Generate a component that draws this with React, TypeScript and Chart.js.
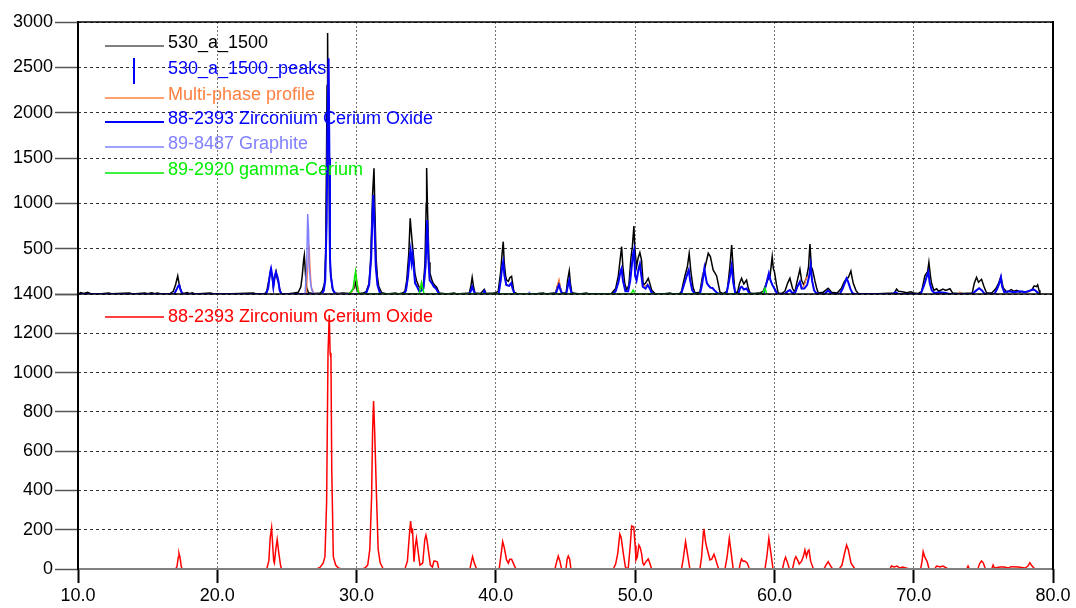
import React, { useEffect, useRef } from "react";
import { Chart, registerables } from "chart.js";

Chart.register(...registerables);

const FONT = '"Liberation Sans", Arial, Helvetica, sans-serif';

// ---- axis definitions ----
const xMin = 10;
const xMax = 80;
const xStep = 10;
const topMax = 3000;
const topStep = 500;
const bottomMax = 1400;
const bottomStep = 200;

// ---- legend labels ----
const topLegendLabels = [
  "530_a_1500",
  "530_a_1500_peaks",
  "Multi-phase profile",
  "88-2393 Zirconium Cerium Oxide",
  "89-8487 Graphite",
  "89-2920 gamma-Cerium",
];
const bottomLegendLabel = "88-2393 Zirconium Cerium Oxide";

// ---- series: [2theta, intensity] ----
const observed: number[][] = [
  [10.0, 0], [10.2, 15], [10.4, 5], [10.7, 18], [10.9, 3], [11.5, 0], [12.2, 12], [12.4, 2],
  [13.7, 10], [13.9, 0], [14.8, 12], [15.0, 2], [15.3, 14], [15.5, 2], [15.7, 10], [16.0, 0],
  [16.6, 5], [16.84, 30], [17.0, 100], [17.16, 199], [17.25, 120], [17.35, 60], [17.44, 15],
  [17.6, 5], [17.85, 15], [18.0, 4], [18.2, 14], [18.4, 0], [19.5, 12], [19.7, 3], [20.5, 0],
  [22.6, 10], [22.8, 0], [23.4, 0], [23.55, 30], [23.7, 150], [23.85, 257], [23.95, 180],
  [24.02, 80], [24.12, 200], [24.22, 250], [24.3, 170], [24.4, 120], [24.5, 40], [24.6, 5],
  [25.0, 0], [25.5, 10], [25.82, 20], [26.0, 80], [26.1, 200], [26.2, 380], [26.25, 430],
  [26.32, 250], [26.4, 80], [26.54, 15], [26.7, 10], [27.0, 5], [27.4, 10], [27.55, 40],
  [27.7, 120], [27.78, 450], [27.84, 1500], [27.88, 2300], [27.92, 2880], [27.96, 1900],
  [28.0, 2200], [28.03, 1300], [28.07, 500], [28.13, 250], [28.25, 70], [28.4, 15], [28.7, 5],
  [29.0, 10], [29.5, 5], [29.8, 60], [29.9, 130], [30.0, 60], [30.2, 5], [30.5, 10], [30.7, 30],
  [30.9, 120], [31.0, 350], [31.07, 673], [31.15, 1100], [31.25, 1386], [31.32, 900], [31.4, 400],
  [31.5, 180], [31.6, 80], [31.8, 15], [32.2, 0], [32.8, 10], [33.0, 0], [33.3, 10], [33.47, 30],
  [33.6, 150], [33.75, 450], [33.85, 835], [33.92, 700], [34.0, 559], [34.07, 450], [34.19, 228],
  [34.3, 150], [34.45, 90], [34.6, 60], [34.79, 80], [34.91, 339], [35.0, 1000], [35.03, 1390],
  [35.1, 900], [35.2, 350], [35.27, 228], [35.4, 160], [35.5, 118], [35.6, 100], [35.75, 75],
  [35.94, 10], [36.5, 0], [37.0, 10], [37.2, 0], [38.09, 10], [38.2, 80], [38.3, 184], [38.4, 80],
  [38.5, 10], [38.9, 5], [39.17, 52], [39.3, 5], [39.8, 10], [40.0, 15], [40.17, 30], [40.35, 250],
  [40.45, 450], [40.53, 577], [40.6, 350], [40.7, 200], [40.77, 154], [40.9, 140], [41.0, 180],
  [41.13, 195], [41.2, 120], [41.3, 20], [41.5, 5], [42.0, 0], [43.0, 5], [43.4, 10], [43.6, 0],
  [44.3, 15], [44.4, 80], [44.53, 136], [44.62, 70], [44.75, 10], [45.05, 15], [45.15, 150],
  [45.27, 254], [45.35, 120], [45.45, 15], [46.0, 0], [46.5, 10], [46.7, 0], [48.3, 5], [48.43, 30],
  [48.6, 60], [48.79, 199], [48.9, 350], [49.03, 522], [49.12, 300], [49.25, 120], [49.39, 44],
  [49.55, 100], [49.7, 400], [49.8, 522], [49.91, 750], [49.98, 500], [50.1, 301], [50.22, 400],
  [50.34, 456], [50.46, 375], [50.58, 99], [50.75, 120], [50.94, 173], [51.05, 120], [51.18, 44],
  [51.42, 5], [52.0, 0], [52.5, 10], [52.7, 0], [53.2, 5], [53.33, 30], [53.57, 199], [53.75, 300],
  [53.88, 449], [54.0, 250], [54.15, 80], [54.29, 10], [54.65, 20], [54.84, 199], [55.0, 283],
  [55.1, 350], [55.25, 449], [55.4, 412], [55.6, 265], [55.85, 199], [56.09, 20], [56.3, 5],
  [56.61, 30], [56.8, 300], [56.93, 540], [57.05, 250], [57.16, 20], [57.35, 20], [57.5, 120],
  [57.64, 173], [57.8, 110], [58.0, 154], [58.1, 80], [58.24, 10], [58.5, 5], [59.0, 15], [59.2, 30],
  [59.5, 150], [59.68, 191], [59.84, 412], [59.92, 280], [60.0, 246], [60.15, 100], [60.27, 10],
  [60.5, 5], [60.75, 30], [60.95, 120], [61.11, 173], [61.3, 60], [61.47, 20], [61.6, 120],
  [61.83, 272], [61.95, 150], [62.1, 100], [62.3, 180], [62.45, 300], [62.55, 551], [62.65, 300],
  [62.74, 265], [62.9, 150], [63.03, 66], [63.15, 10], [63.5, 20], [63.86, 63], [64.1, 20],
  [64.5, 10], [64.8, 60], [65.0, 130], [65.18, 173], [65.3, 180], [65.49, 254], [65.55, 200],
  [65.66, 118], [65.85, 40], [66.02, 5], [67.0, 0], [68.6, 10], [68.77, 55], [68.9, 30], [69.2, 25],
  [69.5, 15], [69.8, 25], [70.0, 10], [70.3, 5], [70.57, 30], [70.8, 200], [71.0, 250], [71.09, 350],
  [71.2, 200], [71.28, 118], [71.45, 40], [71.64, 58], [71.8, 30], [72.1, 55], [72.3, 40],
  [72.6, 58], [72.8, 10], [73.2, 5], [73.31, 15], [73.5, 5], [74.2, 10], [74.35, 120], [74.51, 184],
  [74.65, 130], [74.87, 162], [75.05, 80], [75.23, 10], [75.6, 10], [75.9, 60], [76.1, 120],
  [76.26, 191], [76.35, 120], [76.43, 66], [76.7, 20], [77.0, 49], [77.2, 30], [77.4, 40],
  [77.6, 20], [77.8, 30], [78.0, 20], [78.3, 30], [78.5, 50], [78.65, 90], [78.82, 81], [78.9, 100],
  [79.0, 40], [79.06, 10],
];

const zcoProfile: number[][] = [
  [10, 0], [16.9, 0], [17.05, 40], [17.2, 90], [17.27, 99], [17.35, 50], [17.5, 0],
  [23.5, 0], [23.65, 60], [23.8, 240], [23.86, 280], [23.95, 200], [24.03, 80], [24.12, 180],
  [24.21, 239], [24.3, 200], [24.38, 150], [24.48, 40], [24.6, 0],
  [27.5, 0], [27.65, 40], [27.75, 150], [27.85, 800], [27.92, 1900], [27.99, 2600], [28.05, 1500],
  [28.09, 400], [28.15, 200], [28.3, 44], [28.5, 0],
  [30.6, 0], [30.72, 20], [30.9, 100], [31.05, 400], [31.13, 800], [31.2, 1092], [31.28, 800],
  [31.38, 300], [31.5, 100], [31.68, 10], [31.9, 0],
  [33.4, 0], [33.55, 40], [33.7, 200], [33.8, 400], [33.88, 485], [33.95, 350], [34.02, 430],
  [34.1, 300], [34.2, 120], [34.35, 80], [34.5, 30], [34.6, 30], [34.8, 60], [34.95, 300],
  [35.07, 816], [35.15, 400], [35.25, 150], [35.4, 120], [35.55, 80], [35.7, 60], [35.85, 20], [36.0, 0],
  [38.1, 0], [38.22, 40], [38.3, 81], [38.4, 40], [38.5, 0],
  [39.1, 0], [39.17, 30], [39.25, 0],
  [40.2, 0], [40.35, 150], [40.45, 300], [40.53, 356], [40.62, 200], [40.75, 100], [40.95, 90],
  [41.1, 120], [41.2, 60], [41.35, 0],
  [44.3, 0], [44.45, 70], [44.53, 100], [44.65, 40], [44.75, 0], [45.05, 0], [45.18, 100],
  [45.27, 154], [45.35, 60], [45.45, 0],
  [48.4, 0], [48.6, 30], [48.8, 130], [48.95, 250], [49.03, 283], [49.12, 150], [49.3, 30],
  [49.5, 30], [49.65, 150], [49.75, 300], [49.85, 440], [49.92, 485], [50.0, 200], [50.1, 150],
  [50.25, 280], [50.34, 330], [50.45, 200], [50.55, 80], [50.75, 60], [50.9, 100], [51.05, 60],
  [51.2, 10], [51.4, 0],
  [53.3, 0], [53.5, 100], [53.7, 200], [53.85, 265], [53.95, 150], [54.1, 40], [54.3, 0],
  [54.65, 0], [54.8, 100], [54.97, 283], [55.05, 200], [55.15, 120], [55.25, 99], [55.4, 70],
  [55.55, 66], [55.7, 40], [55.9, 10], [56.05, 0],
  [56.55, 0], [56.75, 150], [56.93, 309], [57.05, 120], [57.2, 0],
  [57.4, 0], [57.55, 70], [57.65, 80], [57.8, 50], [58.0, 60], [58.15, 20], [58.3, 0],
  [59.2, 0], [59.4, 100], [59.6, 228], [59.72, 150], [59.85, 100], [60.0, 60], [60.2, 0],
  [60.75, 0], [60.95, 30], [61.11, 44], [61.3, 10], [61.5, 20], [61.65, 80], [61.83, 136],
  [61.95, 60], [62.15, 60], [62.35, 100], [62.5, 200], [62.6, 320], [62.7, 150], [62.85, 40],
  [63.0, 10], [63.2, 0],
  [63.6, 0], [63.86, 40], [64.1, 0],
  [64.7, 0], [64.9, 60], [65.05, 120], [65.18, 173], [65.3, 130], [65.45, 60], [65.6, 10], [65.8, 0],
  [68.5, 0], [68.7, 20], [68.9, 0],
  [70.5, 0], [70.75, 100], [70.95, 200], [71.05, 246], [71.15, 120], [71.3, 40], [71.5, 10],
  [71.8, 20], [72.2, 15], [72.6, 0],
  [74.2, 0], [74.5, 40], [74.7, 63], [74.9, 40], [75.1, 0],
  [75.8, 0], [76.0, 60], [76.15, 120], [76.26, 184], [76.35, 80], [76.5, 20], [76.8, 30],
  [77.2, 20], [77.6, 30], [78.0, 20], [78.4, 40], [78.6, 50], [78.8, 30], [79.0, 0],
];

const multiPhase: number[][] = [
  [10, 0], [16.9, 0], [17.05, 40], [17.2, 92], [17.27, 102], [17.35, 50], [17.5, 0],
  [23.5, 0], [23.65, 60], [23.8, 240], [23.86, 282], [23.95, 200], [24.03, 82], [24.12, 180],
  [24.21, 241], [24.3, 200], [24.38, 150], [24.48, 40], [24.6, 0],
  [26.4, 0], [26.5, 300], [26.6, 540], [26.66, 300], [26.75, 80], [26.9, 20], [27.1, 0],
  [27.5, 0], [27.65, 40], [27.75, 150], [27.85, 800], [27.92, 1900], [27.99, 2600], [28.05, 1500],
  [28.09, 400], [28.15, 200], [28.3, 44], [28.5, 0],
  [29.6, 0], [29.8, 80], [29.93, 250], [30.05, 120], [30.2, 0],
  [30.6, 0], [30.72, 20], [30.9, 100], [31.05, 400], [31.13, 800], [31.2, 1092], [31.28, 800],
  [31.38, 300], [31.5, 100], [31.68, 10], [31.9, 0],
  [33.4, 0], [33.55, 40], [33.7, 200], [33.8, 400], [33.88, 485], [33.95, 350], [34.02, 430],
  [34.1, 300], [34.2, 120], [34.35, 80], [34.5, 40], [34.6, 90], [34.67, 136], [34.75, 70],
  [34.85, 80], [34.95, 300], [35.07, 816], [35.15, 400], [35.25, 150], [35.4, 120], [35.55, 80],
  [35.7, 60], [35.85, 20], [36.0, 0],
  [38.1, 0], [38.22, 40], [38.3, 81], [38.4, 40], [38.5, 0],
  [40.2, 0], [40.35, 150], [40.45, 300], [40.53, 356], [40.62, 200], [40.75, 100], [40.95, 90],
  [41.1, 120], [41.2, 60], [41.35, 0],
  [44.3, 0], [44.42, 100], [44.53, 162], [44.65, 60], [44.75, 0], [45.05, 0], [45.18, 100],
  [45.27, 154], [45.35, 60], [45.45, 0],
  [48.4, 0], [48.6, 30], [48.8, 130], [48.95, 250], [49.03, 283], [49.12, 150], [49.3, 30],
  [49.5, 30], [49.65, 170], [49.75, 320], [49.85, 440], [49.92, 485], [50.0, 200], [50.1, 150],
  [50.25, 280], [50.34, 330], [50.45, 200], [50.55, 80], [50.7, 90], [50.9, 100], [51.05, 60],
  [51.2, 10], [51.4, 0],
  [53.3, 0], [53.5, 100], [53.7, 200], [53.85, 265], [53.95, 150], [54.1, 40], [54.3, 0],
  [54.65, 0], [54.8, 110], [54.9, 240], [54.97, 283], [55.05, 200], [55.15, 120], [55.25, 99],
  [55.4, 70], [55.55, 66], [55.7, 40], [55.9, 10], [56.05, 0],
  [56.55, 0], [56.75, 150], [56.93, 309], [57.05, 120], [57.2, 0],
  [57.4, 0], [57.55, 70], [57.65, 80], [57.8, 50], [58.0, 60], [58.15, 20], [58.3, 0],
  [59.2, 0], [59.35, 70], [59.5, 180], [59.6, 228], [59.72, 150], [59.85, 100], [60.0, 60], [60.2, 0],
  [60.75, 0], [60.95, 30], [61.11, 44], [61.3, 10], [61.5, 20], [61.65, 80], [61.83, 136],
  [61.95, 60], [62.15, 100], [62.3, 180], [62.5, 200], [62.6, 320], [62.7, 150], [62.85, 40],
  [63.0, 10], [63.2, 0],
  [63.6, 0], [63.86, 40], [64.1, 0],
  [64.7, 0], [64.9, 60], [65.05, 120], [65.18, 173], [65.3, 130], [65.45, 60], [65.6, 10], [65.8, 0],
  [70.5, 0], [70.75, 100], [70.95, 200], [71.05, 246], [71.15, 120], [71.3, 40], [71.5, 10], [72.6, 0],
  [73.2, 0], [73.31, 20], [73.5, 0],
  [74.2, 0], [74.5, 40], [74.7, 63], [74.9, 40], [75.1, 0],
  [75.8, 0], [76.0, 60], [76.15, 120], [76.26, 184], [76.35, 80], [76.5, 20], [76.8, 30],
  [77.2, 20], [77.6, 30], [78.0, 20], [78.3, 25], [78.4, 40], [78.6, 50], [78.8, 30], [79.0, 0],
];

const graphite: number[][] = [
  [26.3, 0], [26.42, 300], [26.49, 882], [26.55, 700], [26.6, 300], [26.7, 120], [26.78, 44],
  [26.9, 15], [27.0, 0], [42.3, 0], [42.4, 20], [42.5, 0],
];

const gammaCerium: number[][] = [
  [29.5, 0], [29.75, 60], [29.88, 200], [29.93, 246], [30.0, 150], [30.1, 30], [30.2, 0],
  [34.5, 0], [34.6, 80], [34.67, 125], [34.75, 60], [34.85, 0], [49.7, 0], [49.86, 44], [50.0, 0],
  [59.15, 0], [59.32, 63], [59.45, 0],
];

const zcoReference: number[][] = [
  [17.0, 0], [17.1, 10], [17.2, 60], [17.25, 80], [17.32, 60], [17.42, 10], [17.5, 0],
  [23.55, 0], [23.7, 40], [23.8, 160], [23.9, 210], [23.97, 130], [24.05, 40], [24.1, 30],
  [24.2, 100], [24.3, 150], [24.34, 150], [24.42, 80], [24.55, 15], [24.62, 0],
  [27.14, 0], [27.4, 10], [27.6, 30], [27.73, 63], [27.85, 342], [27.95, 1100], [28.04, 1293],
  [28.1, 1100], [28.16, 1074], [28.22, 500], [28.33, 63], [28.5, 20], [28.7, 5], [28.93, 0],
  [30.37, 0], [30.6, 5], [30.8, 20], [30.95, 100], [31.08, 368], [31.15, 700], [31.22, 855],
  [31.3, 700], [31.44, 351], [31.55, 100], [31.7, 30], [31.92, 0],
  [33.47, 0], [33.65, 40], [33.8, 180], [33.88, 244], [33.95, 190], [34.02, 199], [34.12, 37],
  [34.22, 120], [34.3, 156], [34.4, 100], [34.55, 20], [34.75, 30], [34.9, 150], [34.98, 173],
  [35.05, 150], [35.15, 97], [35.3, 20], [35.45, 10], [35.55, 40], [35.63, 41], [35.8, 36], [35.9, 0],
  [38.14, 0], [38.25, 40], [38.33, 63], [38.45, 30], [38.62, 0],
  [40.24, 0], [40.35, 60], [40.49, 139], [40.6, 110], [40.77, 46], [40.9, 30], [41.0, 50],
  [41.13, 50], [41.25, 30], [41.44, 0],
  [44.24, 0], [44.38, 40], [44.48, 66], [44.6, 40], [44.72, 0], [45.03, 0], [45.12, 50],
  [45.2, 66], [45.3, 50], [45.39, 0],
  [48.43, 0], [48.6, 25], [48.75, 80], [48.9, 178], [49.0, 160], [49.15, 80], [49.3, 10],
  [49.5, 0], [49.65, 120], [49.75, 219], [49.9, 214], [50.0, 120], [50.06, 46], [50.15, 60],
  [50.27, 122], [50.36, 110], [50.46, 80], [50.55, 30], [50.63, 20], [50.8, 40], [50.94, 51],
  [51.05, 30], [51.18, 0],
  [53.33, 0], [53.45, 50], [53.62, 139], [53.75, 80], [53.93, 0],
  [54.65, 0], [54.77, 60], [54.9, 190], [54.94, 204], [55.05, 140], [55.13, 113], [55.25, 80],
  [55.37, 46], [55.5, 50], [55.66, 75], [55.78, 50], [55.9, 20], [56.0, 0],
  [56.45, 0], [56.6, 60], [56.76, 156], [56.9, 80], [57.04, 0],
  [57.47, 0], [57.55, 30], [57.64, 51], [57.75, 40], [57.88, 41], [58.05, 30], [58.2, 0],
  [59.32, 0], [59.45, 60], [59.6, 156], [59.75, 80], [59.9, 0],
  [60.58, 0], [60.7, 40], [60.8, 60], [60.95, 30], [61.07, 0],
  [61.3, 0], [61.45, 50], [61.54, 63], [61.7, 40], [61.78, 25], [61.95, 40], [62.1, 70],
  [62.19, 97], [62.3, 63], [62.4, 90], [62.48, 97], [62.6, 40], [62.8, 0],
  [63.55, 0], [63.7, 20], [63.86, 37], [64.0, 20], [64.17, 0],
  [64.65, 0], [64.85, 20], [65.0, 70], [65.18, 122], [65.3, 100], [65.5, 30], [65.78, 0],
  [68.3, 0], [68.4, 15], [68.6, 10], [68.8, 15], [69.0, 5], [69.2, 10], [69.7, 0],
  [70.5, 0], [70.6, 40], [70.68, 88], [70.8, 60], [70.97, 37], [71.1, 0],
  [71.5, 0], [71.64, 15], [71.9, 10], [72.1, 15], [72.47, 0],
  [73.8, 0], [73.9, 15], [74.0, 0], [74.6, 0], [74.75, 30], [74.87, 41], [75.0, 30], [75.15, 0],
  [75.6, 0], [75.7, 20], [75.8, 5], [76.2, 10], [76.5, 10], [76.8, 5], [77.0, 12], [77.5, 10],
  [78.0, 5], [78.2, 15], [78.34, 32], [78.5, 15], [78.7, 0],
];

const toPoints = (arr: number[][]) => arr.map(([x, y]) => ({ x, y }));

const COLORS = {
  observed: "#000000",
  peaks: "#0000ff",
  multi: "#ff8040",
  zco: "#0000ff",
  graphite: "#8080ff",
  gamma: "#00ee00",
  red: "#ff0000",
};

const overlayPlugin = {
  id: "xrdOverlay",
  afterDatasetsDraw(chart: any) {
    const { ctx, chartArea } = chart;
    const { left, right, top, bottom } = chartArea;
    const sep = chart.scales.yTop.bottom;
    const line = (x1: number, y1: number, x2: number, y2: number, color: string, w: number) => {
      ctx.beginPath();
      ctx.strokeStyle = color;
      ctx.lineWidth = w;
      ctx.moveTo(x1, y1);
      ctx.lineTo(x2, y2);
      ctx.stroke();
    };
    ctx.save();
    ctx.setLineDash([]);
    line(left, bottom, right, bottom, "#808080", 2);
    line(left, sep, right, sep, "#000000", 1.5);
    line(left, top, right, top, "#000000", 1.5);
    line(right, top - 1, right, bottom + 1, "#000000", 2);
    line(left, top - 1, left, bottom + 1, "#000000", 2);

    // legends
    ctx.font = `18px ${FONT}`;
    ctx.textBaseline = "middle";
    ctx.textAlign = "left";
    const lx1 = left + 27;
    const lx2 = left + 86;
    const tx = left + 90;
    const rows = [21, 47, 73, 97, 122, 148];
    const colors = [COLORS.observed, COLORS.peaks, COLORS.multi, COLORS.zco, COLORS.graphite, COLORS.gamma];
    const widths = [1, 2, 1.5, 2, 1.5, 1.5];
    topLegendLabels.forEach((label, i) => {
      const y = top + rows[i];
      if (i === 1) {
        line(left + 56, y - 11, left + 56, y + 15, colors[i], 2);
      } else {
        line(lx1, y + 3, lx2, y + 3, colors[i], widths[i]);
      }
      ctx.fillStyle = colors[i];
      ctx.fillText(label, tx, y);
    });
    const by = sep + 23;
    line(lx1, by, lx2, by, COLORS.red, 1.5);
    ctx.fillStyle = COLORS.red;
    ctx.fillText(bottomLegendLabel, tx, by);
    ctx.restore();
  },
};

export default function App() {
  const canvasRef = useRef<HTMLCanvasElement | null>(null);

  useEffect(() => {
    if (!canvasRef.current) return;
    Chart.defaults.font.family = FONT;
    const common = { pointRadius: 0, tension: 0, fill: false, showLine: true };
    const chart = new Chart(canvasRef.current, {
      type: "line",
      data: {
        datasets: [
          { ...common, label: "89-2920 gamma-Cerium", data: toPoints(gammaCerium), borderColor: COLORS.gamma, borderWidth: 1.5, yAxisID: "yTop" },
          { ...common, label: "89-8487 Graphite", data: toPoints(graphite), borderColor: COLORS.graphite, borderWidth: 1.5, yAxisID: "yTop" },
          { ...common, label: "88-2393 Zirconium Cerium Oxide", data: toPoints(zcoProfile), borderColor: COLORS.zco, borderWidth: 2, yAxisID: "yTop" },
          { ...common, label: "Multi-phase profile", data: toPoints(multiPhase), borderColor: COLORS.multi, borderWidth: 1.2, yAxisID: "yTop" },
          { ...common, label: "530_a_1500", data: toPoints(observed), borderColor: COLORS.observed, borderWidth: 1.5, yAxisID: "yTop" },
          { ...common, label: "88-2393 Zirconium Cerium Oxide (ref)", data: toPoints(zcoReference), borderColor: COLORS.red, borderWidth: 1.5, yAxisID: "yBot" },
        ],
      },
      options: {
        animation: false,
        responsive: false,
        devicePixelRatio: 1,
        layout: { padding: { top: 22, right: 23, left: 0, bottom: 0 } },
        plugins: { legend: { display: false }, tooltip: { enabled: false }, title: { display: false } },
        scales: {
          x: {
            type: "linear",
            min: xMin,
            max: xMax,
            border: { display: false, dash: [2, 2] },
            grid: { color: "#777777", lineWidth: 1, tickLength: 14, tickColor: "#000000", tickWidth: 2, tickBorderDash: [] } as any,
            ticks: {
              stepSize: xStep,
              color: "#000000",
              padding: 2,
              font: { size: 18, family: FONT },
              maxRotation: 0,
              autoSkip: false,
              callback: (v: any) => Number(v).toFixed(1),
            },
            afterFit: (s: any) => {
              s.height = 39;
              s.paddingLeft = 0;
              s.paddingRight = 0;
            },
          },
          yBot: {
            type: "linear",
            position: "left",
            stack: "panels",
            stackWeight: 275,
            weight: 1,
            min: 0,
            max: bottomMax,
            border: { display: false, dash: [3, 3] },
            grid: { color: "#333333", lineWidth: 1, tickLength: 23, tickColor: "#555555", tickWidth: 1.5, tickBorderDash: [] } as any,
            ticks: {
              stepSize: bottomStep,
              color: "#000000",
              padding: 2,
              font: { size: 18, family: FONT },
              autoSkip: false,
              callback: (v: any) => String(v),
            },
            afterFit: (s: any) => {
              s.width = 78;
              s.paddingTop = 0;
              s.paddingBottom = 0;
            },
          },
          yTop: {
            type: "linear",
            position: "left",
            stack: "panels",
            stackWeight: 272,
            weight: 2,
            min: 0,
            max: topMax,
            border: { display: false, dash: [3, 3] },
            grid: { color: "#333333", lineWidth: 1, tickLength: 23, tickColor: "#555555", tickWidth: 1.5, tickBorderDash: [] } as any,
            ticks: {
              stepSize: topStep,
              color: "#000000",
              padding: 2,
              font: { size: 18, family: FONT },
              autoSkip: false,
              callback: (v: any) => (Number(v) === 0 ? "" : String(v)),
            },
            afterFit: (s: any) => {
              s.width = 78;
              s.paddingTop = 0;
              s.paddingBottom = 0;
            },
          },
        } as any,
      },
      plugins: [overlayPlugin],
    } as any);
    return () => chart.destroy();
  }, []);

  return (
    <div style={{ position: "fixed", left: 0, top: 0, width: 1076, height: 608, background: "#ffffff" }}>
      <canvas ref={canvasRef} width={1076} height={608} style={{ display: "block" }} />
    </div>
  );
}
